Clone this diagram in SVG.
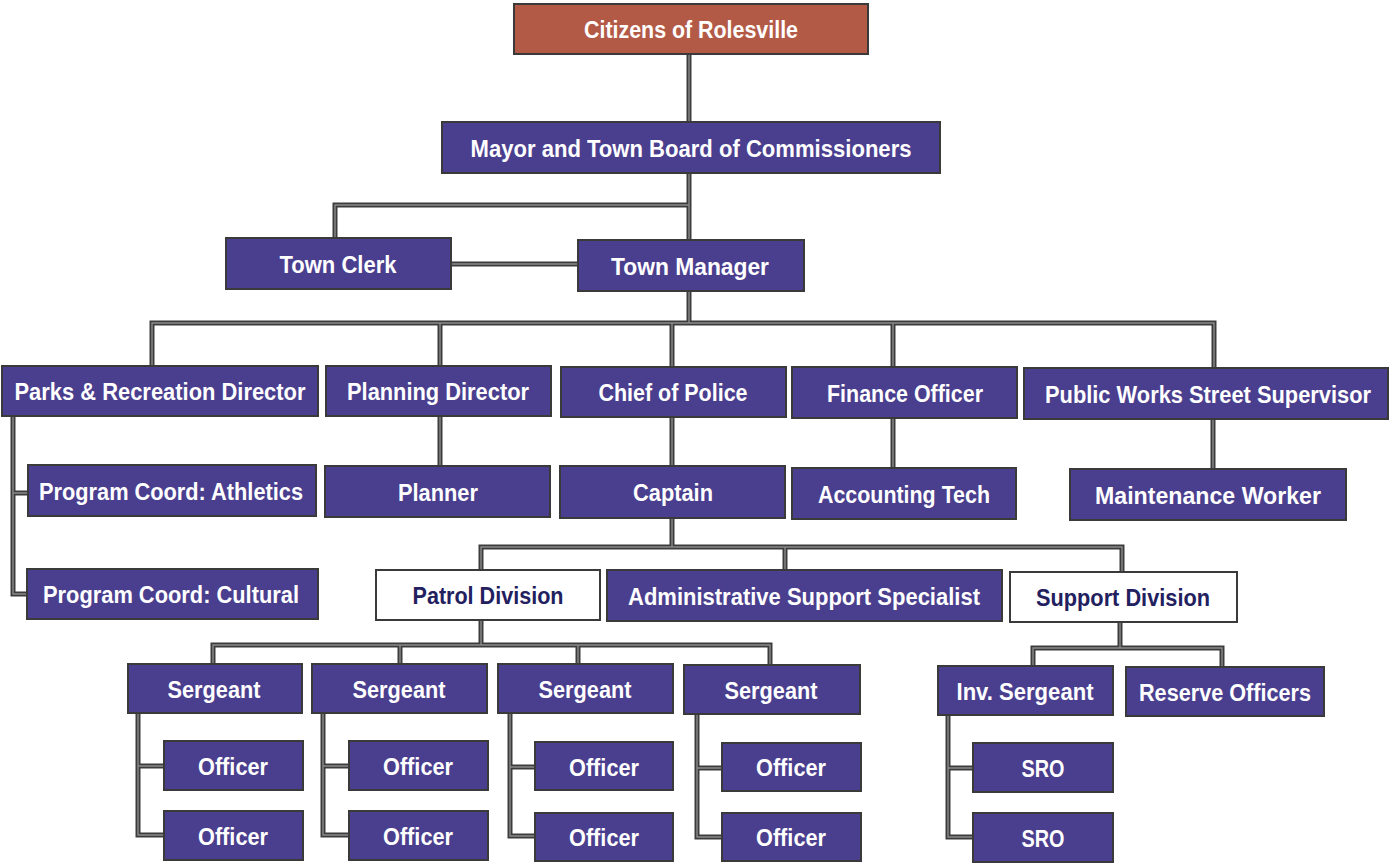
<svg xmlns="http://www.w3.org/2000/svg" xmlns:xlink="http://www.w3.org/1999/xlink" width="1389" height="865" viewBox="0 0 1389 865">
<style>
.box{fill:#4a3e8e;stroke:#3a3a3a;stroke-width:2}
.top{fill:#b35a47;stroke:#3a3a3a;stroke-width:2}
.wbox{fill:#ffffff;stroke:#3a3a3a;stroke-width:2}
.t{font-family:"Liberation Sans",Arial,sans-serif;font-weight:bold;font-size:23px;fill:#ffffff;text-anchor:middle}
.tn{font-family:"Liberation Sans",Arial,sans-serif;font-weight:bold;font-size:23px;fill:#22205e;text-anchor:middle}
.c1{fill:none;stroke:#3c3c3c;stroke-width:5;stroke-linejoin:miter}
.c2{fill:none;stroke:#8a8a8a;stroke-width:1.4}
</style>
<rect width="1389" height="865" fill="#ffffff"/>
<defs>
<path id="conn" d="M689,54 V122 M689,172 V240 M689,205 H335 V238 M451,264 H578 M689,291 V323 M152,366 V323 H1214 V368 M440,323 V366 M672,323 V367 M893,323 V367
M13,416 V594 H27 M13,493 H28 M440,416 V466 M672,417 V466 M893,418 V468 M1213,419 V469
M672,518 V547 M481,570 V547 H1122 V572 M785,547 V570
M481,620 V645 M213,664 V645 H770 V665 M400,645 V664 M578,645 V664
M1120,622 V648 M1033,666 V648 H1222 V667
M138,713 V835 H164 M138,766 H164 M323,713 V835 H349 M323,766 H349
M510,713 V836 H535 M510,767 H535 M697,714 V837 H722 M697,768 H722
M948,715 V837 H973 M948,768 H973"/>
</defs>
<g id="connectors">
<use xlink:href="#conn" href="#conn" class="c1"/>
<use xlink:href="#conn" href="#conn" class="c2"/>
</g>
<g id="citizens"><rect class="top" x="514" y="4" width="354" height="50"/><text class="t" x="691" y="38" textLength="214" lengthAdjust="spacingAndGlyphs">Citizens of Rolesville</text></g>
<g id="mayor"><rect class="box" x="442" y="122" width="498" height="51"/><text class="t" x="691" y="157" textLength="441" lengthAdjust="spacingAndGlyphs">Mayor and Town Board of Commissioners</text></g>
<g id="clerk"><rect class="box" x="226" y="238" width="225" height="51"/><text class="t" x="338" y="273" textLength="117" lengthAdjust="spacingAndGlyphs">Town Clerk</text></g>
<g id="manager"><rect class="box" x="578" y="240" width="226" height="51"/><text class="t" x="690" y="275" textLength="158" lengthAdjust="spacingAndGlyphs">Town Manager</text></g>
<g id="parks"><rect class="box" x="2" y="366" width="316" height="50"/><text class="t" x="160" y="400" textLength="291" lengthAdjust="spacingAndGlyphs">Parks &amp; Recreation Director</text></g>
<g id="planning"><rect class="box" x="326" y="366" width="225" height="50"/><text class="t" x="438" y="400" textLength="182" lengthAdjust="spacingAndGlyphs">Planning Director</text></g>
<g id="chief"><rect class="box" x="561" y="367" width="225" height="50"/><text class="t" x="673" y="401" textLength="149" lengthAdjust="spacingAndGlyphs">Chief of Police</text></g>
<g id="finance"><rect class="box" x="792" y="367" width="225" height="51"/><text class="t" x="905" y="402" textLength="156" lengthAdjust="spacingAndGlyphs">Finance Officer</text></g>
<g id="publicworks"><rect class="box" x="1024" y="368" width="364" height="51"/><text class="t" x="1208" y="403" textLength="326" lengthAdjust="spacingAndGlyphs">Public Works Street Supervisor</text></g>
<g id="athletics"><rect class="box" x="28" y="465" width="288" height="51"/><text class="t" x="171" y="500" textLength="264" lengthAdjust="spacingAndGlyphs">Program Coord: Athletics</text></g>
<g id="planner"><rect class="box" x="325" y="466" width="225" height="51"/><text class="t" x="438" y="501" textLength="80" lengthAdjust="spacingAndGlyphs">Planner</text></g>
<g id="captain"><rect class="box" x="560" y="466" width="225" height="52"/><text class="t" x="673" y="501" textLength="80" lengthAdjust="spacingAndGlyphs">Captain</text></g>
<g id="accounting"><rect class="box" x="792" y="468" width="224" height="51"/><text class="t" x="904" y="503" textLength="172" lengthAdjust="spacingAndGlyphs">Accounting Tech</text></g>
<g id="maintenance"><rect class="box" x="1070" y="469" width="276" height="51"/><text class="t" x="1208" y="504" textLength="226" lengthAdjust="spacingAndGlyphs">Maintenance Worker</text></g>
<g id="cultural"><rect class="box" x="27" y="569" width="291" height="50"/><text class="t" x="171" y="603" textLength="256" lengthAdjust="spacingAndGlyphs">Program Coord: Cultural</text></g>
<g id="patrol"><rect class="wbox" x="376" y="570" width="224" height="50"/><text class="tn" x="488" y="604" textLength="151" lengthAdjust="spacingAndGlyphs">Patrol Division</text></g>
<g id="admin"><rect class="box" x="607" y="570" width="395" height="51"/><text class="t" x="804" y="605" textLength="352" lengthAdjust="spacingAndGlyphs">Administrative Support Specialist</text></g>
<g id="support"><rect class="wbox" x="1010" y="572" width="227" height="50"/><text class="tn" x="1123" y="606" textLength="174" lengthAdjust="spacingAndGlyphs">Support Division</text></g>
<g id="sergeant1"><rect class="box" x="128" y="664" width="174" height="49"/><text class="t" x="214" y="698" textLength="93" lengthAdjust="spacingAndGlyphs">Sergeant</text></g>
<g id="sergeant2"><rect class="box" x="312" y="664" width="175" height="49"/><text class="t" x="399" y="698" textLength="93" lengthAdjust="spacingAndGlyphs">Sergeant</text></g>
<g id="sergeant3"><rect class="box" x="498" y="664" width="175" height="49"/><text class="t" x="585" y="698" textLength="93" lengthAdjust="spacingAndGlyphs">Sergeant</text></g>
<g id="sergeant4"><rect class="box" x="684" y="665" width="176" height="49"/><text class="t" x="771" y="699" textLength="93" lengthAdjust="spacingAndGlyphs">Sergeant</text></g>
<g id="invsergeant"><rect class="box" x="938" y="666" width="175" height="49"/><text class="t" x="1025" y="700" textLength="137" lengthAdjust="spacingAndGlyphs">Inv. Sergeant</text></g>
<g id="reserve"><rect class="box" x="1126" y="667" width="198" height="49"/><text class="t" x="1225" y="701" textLength="172" lengthAdjust="spacingAndGlyphs">Reserve Officers</text></g>
<g id="officer1a"><rect class="box" x="164" y="741" width="139" height="49"/><text class="t" x="233" y="775" textLength="70" lengthAdjust="spacingAndGlyphs">Officer</text></g>
<g id="officer1b"><rect class="box" x="164" y="811" width="139" height="49"/><text class="t" x="233" y="845" textLength="70" lengthAdjust="spacingAndGlyphs">Officer</text></g>
<g id="officer2a"><rect class="box" x="349" y="741" width="139" height="49"/><text class="t" x="418" y="775" textLength="70" lengthAdjust="spacingAndGlyphs">Officer</text></g>
<g id="officer2b"><rect class="box" x="349" y="811" width="139" height="49"/><text class="t" x="418" y="845" textLength="70" lengthAdjust="spacingAndGlyphs">Officer</text></g>
<g id="officer3a"><rect class="box" x="535" y="742" width="138" height="48"/><text class="t" x="604" y="776" textLength="70" lengthAdjust="spacingAndGlyphs">Officer</text></g>
<g id="officer3b"><rect class="box" x="535" y="813" width="138" height="48"/><text class="t" x="604" y="846" textLength="70" lengthAdjust="spacingAndGlyphs">Officer</text></g>
<g id="officer4a"><rect class="box" x="722" y="743" width="139" height="48"/><text class="t" x="791" y="776" textLength="70" lengthAdjust="spacingAndGlyphs">Officer</text></g>
<g id="officer4b"><rect class="box" x="722" y="813" width="139" height="48"/><text class="t" x="791" y="846" textLength="70" lengthAdjust="spacingAndGlyphs">Officer</text></g>
<g id="sro1"><rect class="box" x="973" y="743" width="140" height="49"/><text class="t" x="1043" y="777" textLength="43" lengthAdjust="spacingAndGlyphs">SRO</text></g>
<g id="sro2"><rect class="box" x="973" y="813" width="140" height="49"/><text class="t" x="1043" y="847" textLength="43" lengthAdjust="spacingAndGlyphs">SRO</text></g>
</svg>
